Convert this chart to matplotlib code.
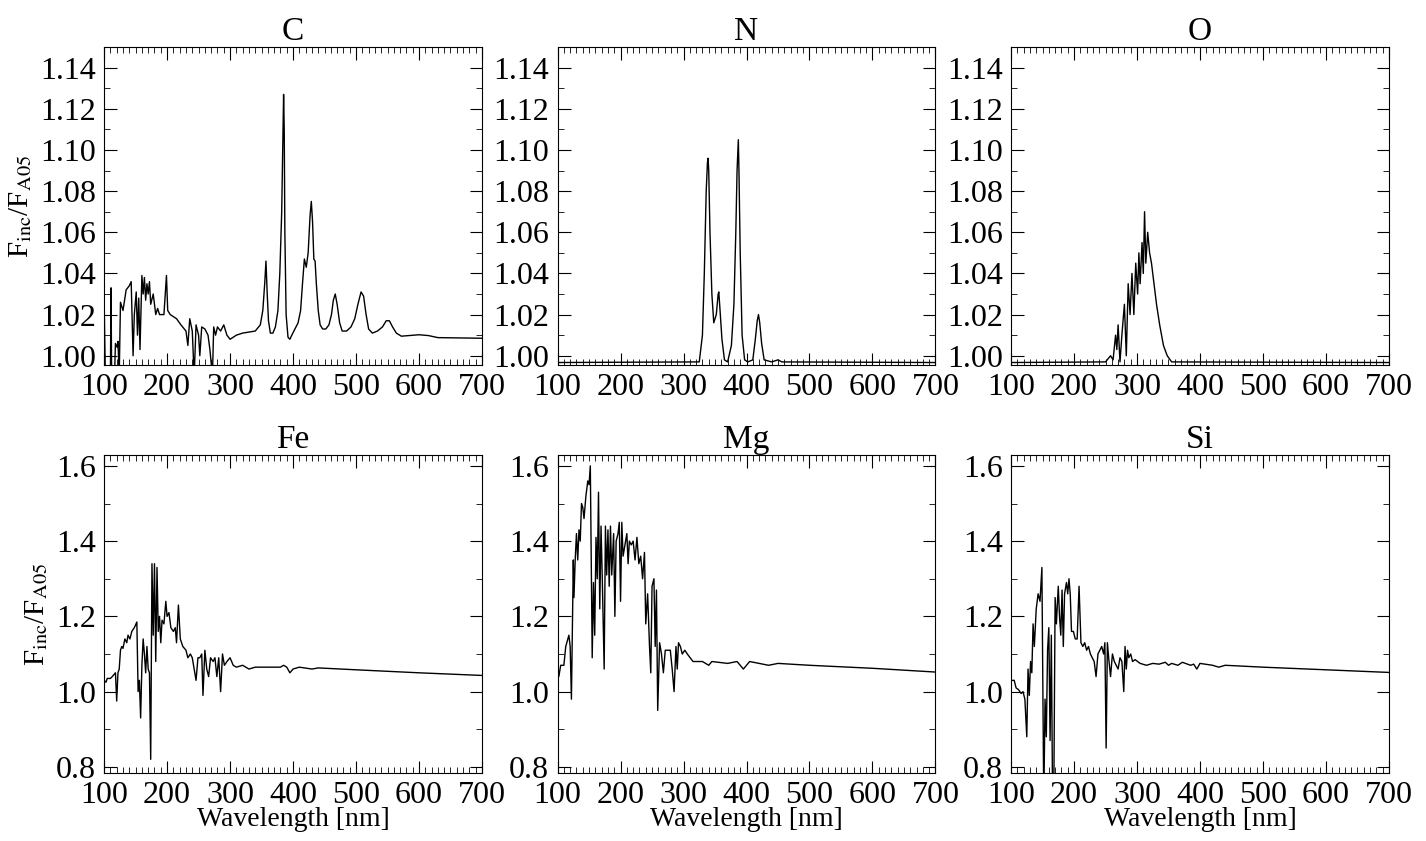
import matplotlib
matplotlib.use("Agg")
import matplotlib.pyplot as plt
from matplotlib.ticker import MultipleLocator

plt.rcParams["font.family"] = ["Liberation Serif", "DejaVu Serif"]
plt.rcParams["mathtext.fontset"] = "stix"

C_X = [100, 102, 107, 110, 111, 112, 117, 118, 121, 122, 124, 126, 130, 135, 140, 143, 146, 148, 151, 153, 155, 157,
       160, 162, 164, 166, 168, 170, 172, 174, 178, 182, 185, 188, 195, 199, 201, 205, 215, 222, 230, 233, 236, 240,
       243, 246, 250, 252, 255, 260, 265, 268, 272, 274, 277, 280, 285, 290, 295, 300, 310, 320, 340, 348, 352, 355,
       357, 359, 361, 364, 368, 372, 376, 379, 382, 384, 385, 386, 387, 389, 392, 395, 398, 403, 408, 412, 415, 418,
       421, 424, 427, 429, 431, 433, 435, 437, 440, 443, 447, 452, 457, 461, 464, 467, 470, 474, 478, 485, 492, 498,
       503, 508, 512, 516, 520, 526, 534, 542, 548, 553, 558, 564, 572, 585, 600, 615, 630, 700]
C_Y = [1.028, 0.99, 0.99, 0.99, 1.033, 0.99, 0.995, 1.006, 1.004, 1.007, 0.99, 1.026, 1.022, 1.032, 1.034, 1.036,
       1.0, 1.02, 1.031, 1.01, 1.028, 1.003, 1.039, 1.03, 1.038, 1.027, 1.035, 1.03, 1.036, 1.025, 1.03, 1.02, 1.023,
       1.02, 1.02, 1.039, 1.022, 1.02, 1.018, 1.015, 1.012, 1.005, 1.018, 1.012, 0.99, 1.015, 1.01, 1.0, 1.014, 1.013,
       1.01, 1.003, 0.99, 1.014, 1.01, 1.014, 1.012, 1.015, 1.01, 1.008, 1.01, 1.011, 1.012, 1.015, 1.022, 1.035,
       1.046, 1.03, 1.017, 1.011, 1.011, 1.014, 1.022, 1.04, 1.07, 1.11, 1.127, 1.11, 1.06, 1.02, 1.009, 1.008, 1.01,
       1.013, 1.016, 1.022, 1.035, 1.047, 1.043, 1.05, 1.068, 1.075, 1.065, 1.047, 1.046, 1.035, 1.022, 1.015, 1.013,
       1.013, 1.015, 1.02, 1.027, 1.03, 1.025, 1.016, 1.012, 1.012, 1.014, 1.018, 1.025, 1.031, 1.029, 1.02, 1.013,
       1.011, 1.012, 1.014, 1.017, 1.017, 1.014, 1.011, 1.0095, 1.0098, 1.0102, 1.0098, 1.0088, 1.0085]

N_X = [100, 325, 330, 333, 336, 338, 339, 340, 342, 345, 348, 352, 355, 356, 358, 361, 365, 370, 376, 380, 383, 385,
       387, 388, 390, 393, 397, 402, 410, 414, 417, 419, 421, 424, 428, 440, 450, 456, 700]
N_Y = [0.9967, 0.997, 1.01, 1.04, 1.08, 1.094, 1.096, 1.09, 1.06, 1.03, 1.016, 1.02, 1.03, 1.031, 1.022, 1.008, 0.998,
       0.997, 1.005, 1.025, 1.06, 1.09, 1.105, 1.09, 1.05, 1.01, 0.998, 0.997, 0.998, 1.008, 1.017, 1.02, 1.016,
       1.006, 0.998, 0.997, 0.998, 0.997, 0.9967]

O_X = [100, 250, 258, 262, 266, 268, 270, 273, 276, 280, 283, 286, 289, 292, 295, 298, 301, 303, 305, 308, 310, 312,
       314, 317, 320, 323, 327, 331, 336, 342, 348, 355, 700]
O_Y = [0.9967, 0.997, 1.0, 0.998, 1.01, 1.003, 1.015, 0.997, 1.01, 1.025, 1.0, 1.035, 1.02, 1.04, 1.02, 1.045, 1.03,
       1.05, 1.035, 1.055, 1.04, 1.07, 1.045, 1.06, 1.05, 1.045, 1.035, 1.025, 1.015, 1.005, 1.0, 0.997, 0.9967]

FE_X = [100, 103, 105, 110, 113, 118, 120, 122, 124, 126, 128, 130, 133, 136, 138, 141, 144, 148, 152, 154, 156, 158,
        160, 162, 164, 166, 168, 170, 172, 174, 176, 178, 180, 182, 184, 186, 188, 190, 192, 195, 198, 200, 203, 206,
        210, 213, 215, 218, 221, 225, 230, 233, 237, 240, 243, 246, 249, 252, 255, 257, 260, 263, 266, 269, 273, 276,
        279, 282, 285, 288, 291, 295, 300, 305, 310, 320, 330, 340, 360, 380, 385, 390, 395, 400, 410, 430, 440, 500,
        600, 700]
FE_Y = [1.03, 1.025, 1.035, 1.035, 1.04, 1.05, 0.975, 1.05, 1.06, 1.11, 1.12, 1.115, 1.14, 1.13, 1.15, 1.14, 1.16,
        1.17, 1.185, 1.0, 1.03, 0.93, 1.07, 1.14, 1.1, 1.05, 1.12, 1.06, 1.05, 0.82, 1.34, 1.15, 1.34, 1.08, 1.33,
        1.16, 1.2, 1.13, 1.19, 1.18, 1.24, 1.2, 1.21, 1.17, 1.16, 1.17, 1.13, 1.23, 1.14, 1.12, 1.11, 1.09, 1.1, 1.09,
        1.06, 1.03, 1.09, 1.09, 1.1, 0.99, 1.11, 1.06, 1.04, 1.09, 1.08, 1.09, 1.04, 1.09, 1.0, 1.1, 1.07, 1.08, 1.09,
        1.07, 1.065, 1.07, 1.06, 1.065, 1.065, 1.065, 1.07, 1.065, 1.05, 1.06, 1.065, 1.06, 1.063, 1.058, 1.05, 1.043]

MG_X = [100, 102, 105, 110, 113, 118, 120, 122, 125, 126, 128, 130, 132, 134, 136, 138, 140, 142, 145, 148, 150, 152,
        155, 157, 159, 161, 163, 165, 167, 169, 171, 174, 176, 178, 180, 182, 184, 186, 189, 191, 193, 196, 198, 200,
        202, 204, 207, 210, 212, 214, 217, 220, 223, 226, 229, 232, 235, 238, 240, 243, 246, 248, 250, 253, 255, 257,
        259, 262, 265, 268, 271, 275, 279, 282, 285, 288, 290, 292, 295, 298, 302, 306, 315, 330, 340, 345, 370, 385,
        390, 395, 405, 420, 435, 450, 500, 600, 700]
MG_Y = [1.07, 1.04, 1.07, 1.07, 1.12, 1.15, 1.12, 0.98, 1.35, 1.25, 1.35, 1.42, 1.35, 1.43, 1.40, 1.50, 1.49, 1.46,
        1.52, 1.56, 1.55, 1.60, 1.09, 1.29, 1.15, 1.41, 1.30, 1.53, 1.22, 1.44, 1.30, 1.06, 1.44, 1.31, 1.43, 1.28,
        1.44, 1.31, 1.42, 1.20, 1.40, 1.42, 1.45, 1.24, 1.45, 1.36, 1.39, 1.42, 1.34, 1.40, 1.39, 1.40, 1.35, 1.41,
        1.34, 1.36, 1.30, 1.37, 1.18, 1.26, 1.12, 1.05, 1.28, 1.30, 1.12, 1.27, 0.95, 1.13, 1.10, 1.05, 1.11, 1.11,
        1.11, 1.06, 1.00, 1.12, 1.06, 1.13, 1.12, 1.10, 1.11, 1.10, 1.08, 1.08, 1.07, 1.08, 1.075, 1.08, 1.07, 1.06,
        1.08, 1.075, 1.07, 1.075, 1.07, 1.062, 1.052]

SI_X = [100, 105, 108, 112, 116, 119, 122, 125, 127, 129, 131, 133, 135, 137, 140, 143, 146, 149, 152, 154, 156, 158,
        160, 162, 164, 166, 168, 170, 172, 175, 177, 179, 181, 183, 185, 188, 190, 192, 194, 196, 199, 202, 205, 208,
        211, 214, 217, 220, 223, 226, 229, 232, 235, 238, 241, 244, 247, 249, 251, 253, 255, 258, 261, 264, 267, 270,
        273, 276, 279, 281, 283, 285, 287, 290, 293, 297, 305, 315, 325, 335, 345, 350, 355, 365, 372, 385, 390, 395,
        400, 420, 430, 440, 500, 600, 700]
SI_Y = [1.03, 1.03, 1.01, 1.005, 0.995, 1.0, 0.98, 0.88, 1.06, 0.99, 1.08, 1.05, 1.18, 1.12, 1.22, 1.26, 1.24, 1.33,
        0.7, 0.98, 0.88, 1.11, 1.17, 0.87, 1.15, 0.7, 0.75, 1.25, 1.18, 1.28, 1.2, 1.15, 1.27, 1.12, 1.26, 1.29, 1.26,
        1.3, 1.26, 1.16, 1.16, 1.14, 1.14, 1.28, 1.13, 1.12, 1.13, 1.11, 1.12, 1.1, 1.09, 1.08, 1.04, 1.1, 1.11, 1.12,
        1.1, 1.13, 0.85, 1.13, 1.09, 1.04, 1.1, 1.08, 1.07, 1.06, 1.09, 1.08, 1.0, 1.12, 1.06, 1.11, 1.09, 1.1, 1.08,
        1.085, 1.075, 1.07, 1.075, 1.073, 1.078, 1.07, 1.075, 1.07, 1.078, 1.07, 1.073, 1.06, 1.075, 1.07, 1.065, 1.07,
        1.065, 1.058, 1.051]

PANELS = [
    ("C", C_X, C_Y), ("N", N_X, N_Y), ("O", O_X, O_Y),
    ("Fe", FE_X, FE_Y), ("Mg", MG_X, MG_Y), ("Si", SI_X, SI_Y),
]
YLABEL = r"F$_{\rm inc}$/F$_{\rm A05}$"

fig = plt.figure(figsize=(14.26, 8.41), dpi=100)
lefts = [0.073, 0.391, 0.709]
for i, (name, xs, ys) in enumerate(PANELS):
    row, col = divmod(i, 3)
    bottom = 0.566 if row == 0 else 0.081
    ax = fig.add_axes([lefts[col], bottom, 0.265, 0.378])
    ax.plot(xs, ys, color="black", linewidth=1.0)
    ax.set_xlim(100, 700)
    ax.xaxis.set_major_locator(MultipleLocator(100))
    ax.xaxis.set_minor_locator(MultipleLocator(10))
    if row == 0:
        ax.set_ylim(0.9955, 1.15)
        ax.yaxis.set_major_locator(MultipleLocator(0.02))
        ax.yaxis.set_minor_locator(MultipleLocator(0.01))
        ax.yaxis.set_major_formatter(lambda v, p: f"{v:.2f}")
    else:
        ax.set_ylim(0.784, 1.629)
        ax.yaxis.set_major_locator(MultipleLocator(0.2))
        ax.yaxis.set_minor_locator(MultipleLocator(0.1))
        ax.yaxis.set_major_formatter(lambda v, p: f"{v:.1f}")
        ax.set_xlabel("Wavelength [nm]", fontsize=20, labelpad=-2)
    ax.tick_params(which="both", direction="in", top=True, right=True, labelsize=23, pad=6)
    ax.tick_params(which="major", length=9)
    ax.tick_params(which="minor", length=4)
    ax.set_title(name, fontsize=24, pad=3)
    if col == 0:
        ax.set_ylabel(YLABEL, fontsize=21, labelpad=4)

fig.savefig("out.png", dpi=100)
